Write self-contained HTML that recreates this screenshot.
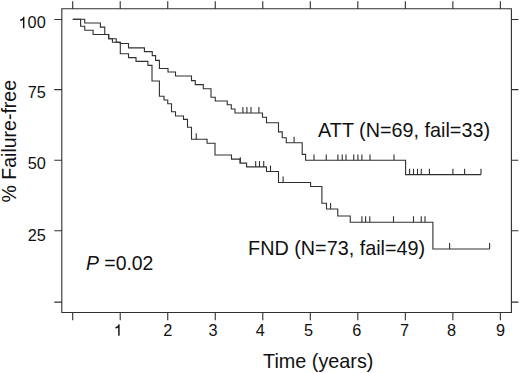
<!DOCTYPE html>
<html><head><meta charset="utf-8"><style>
html,body{margin:0;padding:0;background:#fff;}
body{width:520px;height:373px;overflow:hidden;}
svg{display:block;}
text{font-family:"Liberation Sans",sans-serif;fill:#111;}
</style></head><body>
<svg width="520" height="373" viewBox="0 0 520 373">
<rect width="520" height="373" fill="#fff"/>
<g fill="none" stroke="#303030" stroke-width="1.1">
<path d="M61.8,8.7 H511.4 V312.5 H61.8 Z M72.7,312.5 V320.2 M72.7,8.7 V1.2 M120.22,312.5 V320.2 M120.22,8.7 V1.2 M167.74,312.5 V320.2 M167.74,8.7 V1.2 M215.26,312.5 V320.2 M215.26,8.7 V1.2 M262.78,312.5 V320.2 M262.78,8.7 V1.2 M310.3,312.5 V320.2 M310.3,8.7 V1.2 M357.82,312.5 V320.2 M357.82,8.7 V1.2 M405.34,312.5 V320.2 M405.34,8.7 V1.2 M452.86,312.5 V320.2 M452.86,8.7 V1.2 M500.38,312.5 V320.2 M500.38,8.7 V1.2 M61.8,302.1 H54.3 M511.4,302.1 H518.4 M61.8,230.7 H54.3 M511.4,230.7 H518.4 M61.8,160.24 H54.3 M511.4,160.24 H518.4 M61.8,89.64 H54.3 M511.4,89.64 H518.4 M61.8,19.5 H54.3 M511.4,19.5 H518.4"/>
<path d="M72.75,19.3 H84.75 V23 H100.4 V27.1 H104.75 V34.5 H108.7 V38.8 H116.2 V42.4 H120.3 V43.5 H128.5 V47.9 H144.4 V51.6 H152.25 V55.6 H155.6 V60.4 H159.4 V68.5 H168 V72 H175.5 V76 H191.5 V80.6 H195.25 V84.6 H203.3 V88.75 H211 V97.25 H215.25 V101 H227.25 V104.75 H231.3 V109 H235 V113 H262.5 V117.25 H266.5 V122.75 H278.5 V131.9 H282.25 V137.75 H286.25 V142.75 H302.2 V154.4 H305.6 V160.3 H405.6 V174.6 H481"/>
<path d="M72.75,19.3 H80.6 V26.25 H84.75 V30.3 H93.1 V34.5 H104.75 H108.7 V38.8 H112.4 V42.3 H120.3 V53.75 H128.5 V57.6 H136 V61.4 H147.9 V65.4 H152 V81 H159.4 V96.25 H164 V100 H167.75 V103.75 H171.5 V111.75 H175.5 V116 H183.5 V119.4 H187.5 V127.25 H191.5 V139.2 H207.1 V143.2 H215 V155 H231.5 V159.1 H240 V163.1 H246.6 V166.9 H266.5 V171.5 H278.5 V182.5 H310.6 V186.5 H321.9 V203.3 H326.5 V209 H337.75 V216 H350.25 V222.25 H432.9 V249 H489.6"/>
<path d="M242.9,113 V107.1 M246.9,113 V107.1 M251,113 V107.1 M258.9,113 V107.1 M294.1,142.75 V136.85 M314,160.3 V154.4 M326.25,160.3 V154.4 M337.9,160.3 V154.4 M342.25,160.3 V154.4 M346,160.3 V154.4 M353.75,160.3 V154.4 M357.9,160.3 V154.4 M361.9,160.3 V154.4 M370,160.3 V154.4 M394,160.3 V154.4 M409.6,174.6 V168.7 M413.5,174.6 V168.7 M417.5,174.6 V168.7 M421.25,174.6 V168.7 M429.4,174.6 V168.7 M452.9,174.6 V168.7 M464.6,174.6 V168.7 M481,174.6 V168.7"/>
<path d="M196.25,139.2 V133.3 M240.3,163.1 V157.2 M255.7,166.9 V161 M259.5,166.9 V161 M263.7,166.9 V161 M270.5,171.5 V165.6 M283.1,182.5 V176.6 M330.6,209 V203.1 M361.9,222.25 V216.35 M365.6,222.25 V216.35 M369.8,222.25 V216.35 M393.5,222.25 V216.35 M413.5,222.25 V216.35 M421.25,222.25 V216.35 M425,222.25 V216.35 M449.6,249 V243.1 M489.6,249 V243.1"/>
</g>
<g font-size="16.3"><text x="45.95" y="240.70" text-anchor="end">25</text><text x="45.95" y="169.40" text-anchor="end">50</text><text x="45.95" y="98.40" text-anchor="end">75</text><text x="27.62" y="28.25">00</text><text x="167.70" y="335.8" text-anchor="middle">2</text><text x="213.10" y="335.8" text-anchor="middle">3</text><text x="260.35" y="335.8" text-anchor="middle">4</text><text x="308.60" y="335.8" text-anchor="middle">5</text><text x="356.90" y="335.8" text-anchor="middle">6</text><text x="404.60" y="335.8" text-anchor="middle">7</text><text x="451.55" y="335.8" text-anchor="middle">8</text><text x="500.65" y="335.8" text-anchor="middle">9</text></g>
<g fill="#111"><path transform="translate(18.55,28.25) scale(0.01630,-0.01630)" d="M359,0 L271,0 L271,509 C215,470 160,455 101,446 L101,530 C165,540 225,575 260,625 C275,648 285,675 292,703 L359,703 Z"/><path transform="translate(113.77,335.70) scale(0.01630,-0.01630)" d="M359,0 L271,0 L271,509 C215,470 160,455 101,446 L101,530 C165,540 225,575 260,625 C275,648 285,675 292,703 L359,703 Z"/></g>
<g font-size="19.8">
<text x="263.1" y="367.6">Time (years)</text>
<text transform="translate(15.9,202.4) rotate(-90)" font-size="19.5">% Failure-free</text>
<text x="318.1" y="137.1">ATT (N=69, fail=33)</text>
<text x="248.1" y="254.8">FND (N=73, fail=49)</text>
<text x="86.0" y="269.9" font-size="19.4"><tspan font-style="italic">P</tspan> =0.02</text>
</g>
</svg>
</body></html>
